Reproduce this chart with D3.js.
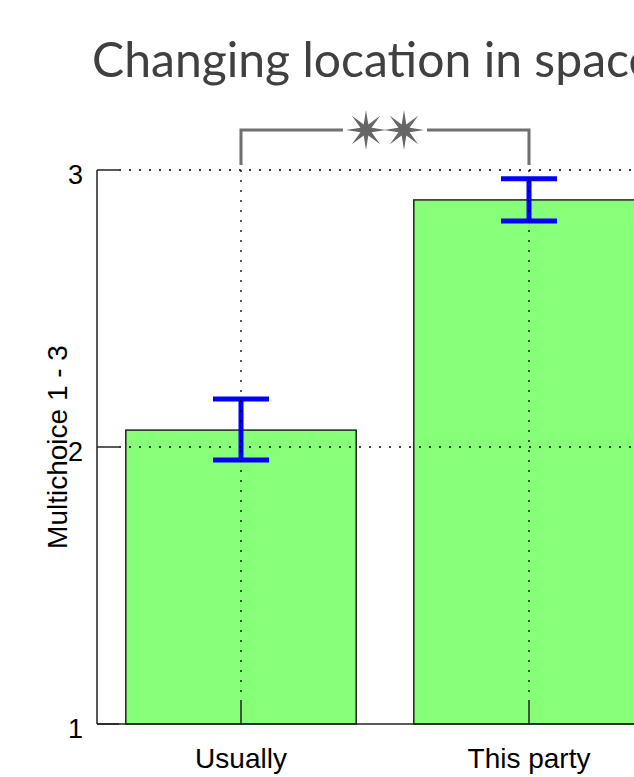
<!DOCTYPE html>
<html>
<head>
<meta charset="utf-8">
<script src="https://cdn.jsdelivr.net/npm/d3@7"></script>
<style>
  body { margin: 0; overflow: hidden; background: #fff; }
</style>
</head>
<body>
<div class="chart-container"></div>
<script>
const width = 730;
const height = 777;

// Chart values
const categories = ["Usually", "This party"];
const means = [2.061, 2.892];
const errLow = [1.953, 2.816];
const errHigh = [2.173, 2.968];
const yTicks = [1, 2, 3];
const titleText = "Changing location in space";
const yTitle = "Multichoice 1 - 3";
const significance = { from: "Usually", to: "This party", stars: 2 };

const margin = { top: 170, left: 97, bottom: 53, right: 57 };
const tickLen = 22;

const svg = d3.select(".chart-container").append("svg")
    .attr("width", width)
    .attr("height", height)
    .style("font-family", "'Liberation Sans', Arial, sans-serif");

const x = d3.scaleBand()
    .domain(categories)
    .range([margin.left, width - margin.right])
    .paddingInner(0.2)
    .paddingOuter(0.1);

const y = d3.scaleLinear()
    .domain([1, 3])
    .range([height - margin.bottom, margin.top]);

const cx = d => x(d) + x.bandwidth() / 2;

// Title (Calibri-like look: narrow the glyphs to the measured width)
svg.append("text")
    .attr("x", 92)
    .attr("y", 77)
    .attr("fill", "#404040")
    .attr("textLength", 562)
    .attr("lengthAdjust", "spacingAndGlyphs")
    .style("font-family", "Lato, 'Open Sans', sans-serif")
    .style("font-size", "49px")
    .text(titleText);

// Bars
svg.append("g")
    .selectAll("rect")
    .data(categories)
    .join("rect")
    .attr("x", d => x(d))
    .attr("y", (d, i) => y(means[i]))
    .attr("width", x.bandwidth())
    .attr("height", (d, i) => y(1) - y(means[i]))
    .attr("fill", "#88ff78")
    .attr("stroke", "#222")
    .attr("stroke-width", 1.5);

// Error bars
const capHalf = 28;
const eb = svg.append("g")
    .attr("stroke", "#0000ff")
    .attr("stroke-width", 5)
    .selectAll("g")
    .data(categories)
    .join("g");
eb.append("line")
    .attr("x1", cx).attr("x2", cx)
    .attr("y1", (d, i) => y(errLow[i]))
    .attr("y2", (d, i) => y(errHigh[i]));
eb.append("line")
    .attr("x1", d => cx(d) - capHalf).attr("x2", d => cx(d) + capHalf)
    .attr("y1", (d, i) => y(errHigh[i]))
    .attr("y2", (d, i) => y(errHigh[i]));
eb.append("line")
    .attr("x1", d => cx(d) - capHalf).attr("x2", d => cx(d) + capHalf)
    .attr("y1", (d, i) => y(errLow[i]))
    .attr("y2", (d, i) => y(errLow[i]));

// Dotted grid
const grid = svg.append("g")
    .attr("stroke", "#000")
    .attr("stroke-width", 1.3)
    .attr("stroke-dasharray", "2,8");
grid.selectAll(".hgrid")
    .data(yTicks.filter(t => t > 1))
    .join("line")
    .attr("x1", margin.left + tickLen)
    .attr("x2", width)
    .attr("y1", d => y(d))
    .attr("y2", d => y(d));
grid.selectAll(".vgrid")
    .data(categories)
    .join("line")
    .attr("x1", cx).attr("x2", cx)
    .attr("y1", y(3))
    .attr("y2", y(1) - tickLen);

// Axes lines and inward ticks
const axes = svg.append("g").attr("stroke", "#222").attr("stroke-width", 1.5);
axes.append("line")
    .attr("x1", margin.left).attr("x2", margin.left)
    .attr("y1", y(3)).attr("y2", y(1));
axes.append("line")
    .attr("x1", margin.left).attr("x2", width)
    .attr("y1", y(1)).attr("y2", y(1));
axes.selectAll(".ytick")
    .data(yTicks)
    .join("line")
    .attr("x1", margin.left).attr("x2", margin.left + tickLen)
    .attr("y1", d => y(d)).attr("y2", d => y(d));
axes.selectAll(".xtick")
    .data(categories)
    .join("line")
    .attr("x1", cx).attr("x2", cx)
    .attr("y1", y(1)).attr("y2", y(1) - tickLen);

// Tick labels
svg.append("g")
    .selectAll("text")
    .data(yTicks)
    .join("text")
    .attr("x", 83)
    .attr("y", d => y(d) + 14)
    .attr("text-anchor", "end")
    .style("font-size", "27px")
    .text(d => d);

svg.append("g")
    .selectAll("text")
    .data(categories)
    .join("text")
    .attr("x", cx)
    .attr("y", 768)
    .attr("text-anchor", "middle")
    .style("font-size", "28px")
    .text(d => d);

svg.append("text")
    .attr("transform", `translate(67, ${(y(1) + y(3)) / 2}) rotate(-90)`)
    .attr("text-anchor", "middle")
    .style("font-size", "28px")
    .text(yTitle);

// Significance bracket
const bx1 = cx(significance.from);
const bx2 = cx(significance.to);
const by = 130;
const bMid = (bx1 + bx2) / 2;
const starGap = 42;
const br = svg.append("g")
    .attr("stroke", "#707070")
    .attr("stroke-width", 3)
    .attr("fill", "none");
br.append("path")
    .attr("d", `M${bx1},${y(3) - 5}V${by}H${bMid - starGap}`);
br.append("path")
    .attr("d", `M${bx2},${y(3) - 5}V${by}H${bMid + starGap}`);

function starPoints(r1, r2, n) {
    const pts = [];
    for (let i = 0; i < 2 * n; i++) {
        const a = Math.PI * i / n - Math.PI / 2;
        const r = i % 2 === 0 ? r1 : r2;
        pts.push([r * Math.cos(a), r * Math.sin(a)]);
    }
    return pts.map(p => p.join(",")).join(" ");
}
svg.append("g")
    .selectAll("polygon")
    .data(d3.range(significance.stars))
    .join("polygon")
    .attr("transform", i => `translate(${bMid + (i - (significance.stars - 1) / 2) * 38}, ${by})`)
    .attr("points", starPoints(20, 6, 8))
    .attr("fill", "#666");
</script>
</body>
</html>
